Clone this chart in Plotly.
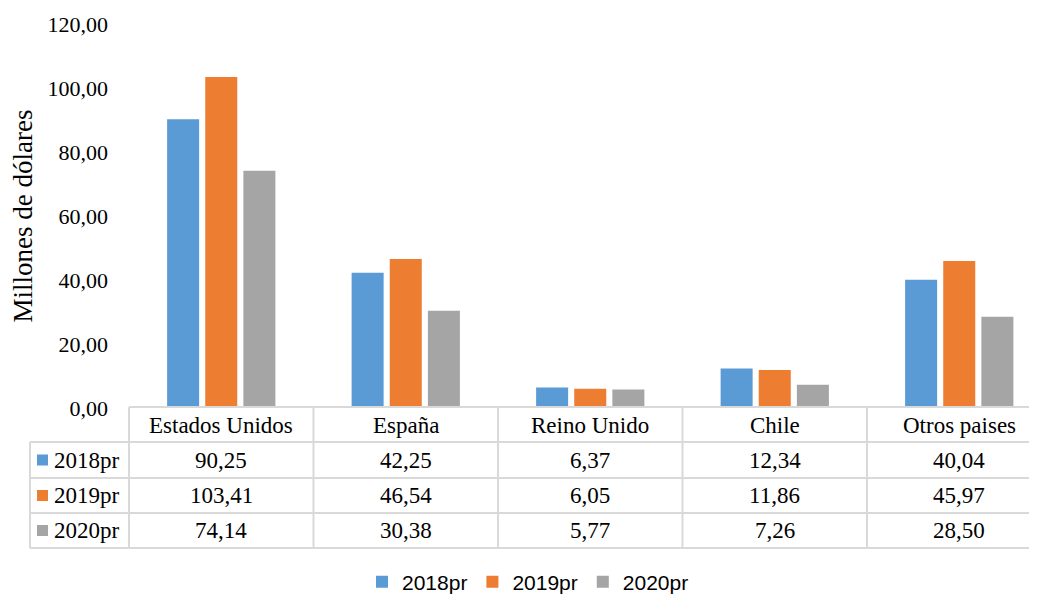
import plotly.graph_objects as go

categories = ["Estados Unidos", "España", "Reino Unido", "Chile", "Otros paises"]
series_names = ["2018pr", "2019pr", "2020pr"]
values_2018 = [90.25, 42.25, 6.37, 12.34, 40.04]
values_2019 = [103.41, 46.54, 6.05, 11.86, 45.97]
values_2020 = [74.14, 30.38, 5.77, 7.26, 28.50]
series_values = [values_2018, values_2019, values_2020]
colors = ["#5B9BD5", "#ED7D31", "#A5A5A5"]

# page body keeps an 8px margin, so the figure is drawn 8px in from the window corner
OFF = 8
W, H = 1037 - OFF, 596 - OFF
L, T = 129 - OFF, 24 - OFF
B = H - (408 - OFF)
R = 0
PH = H - T - B
PW = W - L - R
SERIF = "Liberation Serif"
SANS = "Liberation Sans"
GRID = "#D9D9D9"


def py(p):
    # window pixel row -> paper y
    return (408 - p) / PH


def px(p):
    # window pixel column -> paper x
    return (p - 129) / PW


def fmt(v):
    return f"{v:.2f}".replace(".", ",")


fig = go.Figure()
for name, vals, col in zip(series_names, series_values, colors):
    fig.add_trace(go.Bar(x=categories, y=vals, name=name, marker=dict(color=col, line_width=0)))

shapes = []
line = dict(color=GRID, width=2)
# header top border + row borders
shapes.append(dict(type="line", xref="paper", yref="paper", x0=0, x1=1, y0=py(407), y1=py(407), line=line))
for yy in [442, 478, 513, 548]:
    shapes.append(dict(type="line", xref="paper", yref="paper", x0=px(30), x1=1, y0=py(yy), y1=py(yy), line=line))
# vertical borders
shapes.append(dict(type="line", xref="paper", yref="paper", x0=0, x1=0, y0=py(407), y1=py(548), line=line))
shapes.append(dict(type="line", xref="paper", yref="paper", x0=px(30), x1=px(30), y0=py(442), y1=py(548), line=line))
for i in range(1, len(categories)):
    shapes.append(dict(type="line", xref="x", yref="paper", x0=i - 0.5, x1=i - 0.5, y0=py(407), y1=py(548), line=line))

annotations = []
row_centers = [460, 495.5, 530.5]
txt = dict(family=SERIF, size=23, color="#000000")
for cat in categories:
    annotations.append(dict(x=cat, xref="x", xanchor="center", y=py(425), yref="paper", yanchor="middle",
                            text=cat, showarrow=False, font=txt))
for name, vals, col, yc in zip(series_names, series_values, colors, row_centers):
    shapes.append(dict(type="rect", xref="paper", yref="paper", x0=px(37), x1=px(48),
                       y0=py(yc + 5.5), y1=py(yc - 5.5), fillcolor=col, line_width=0))
    annotations.append(dict(x=px(52), xref="paper", xanchor="left", y=py(yc), yref="paper", yanchor="middle",
                            text=name, showarrow=False, font=txt))
    for cat, v in zip(categories, vals):
        annotations.append(dict(x=cat, xref="x", xanchor="center", y=py(yc), yref="paper", yanchor="middle",
                                text=fmt(v), showarrow=False, font=txt))

fig.update_layout(
    width=W, height=H,
    margin=dict(l=L, r=R, t=T, b=B, autoexpand=False),
    paper_bgcolor="white", plot_bgcolor="white",
    separators=",.",
    barmode="group", bargap=0.38, bargroupgap=0.16,
    shapes=shapes, annotations=annotations,
    legend=dict(orientation="h", x=px(528), xanchor="center", y=py(582), yanchor="middle",
                font=dict(family=SANS, size=21, color="#000000"),
                itemwidth=30, traceorder="normal"),
    showlegend=True,
)
fig.update_xaxes(range=[-0.5, -0.5 + PW / 184.5], showticklabels=False, showgrid=False,
                 showline=False, ticks="", zeroline=False)
fig.update_yaxes(range=[0, 120], dtick=20, tickformat=".2f", showgrid=False, zeroline=False,
                 showline=False, ticks="", ticklabelstandoff=20,
                 tickfont=dict(family=SERIF, size=22, color="#000000"),
                 title=dict(text="Millones de dólares", standoff=10,
                            font=dict(family=SERIF, size=27, color="#000000")))

fig.write_html("out.html")
